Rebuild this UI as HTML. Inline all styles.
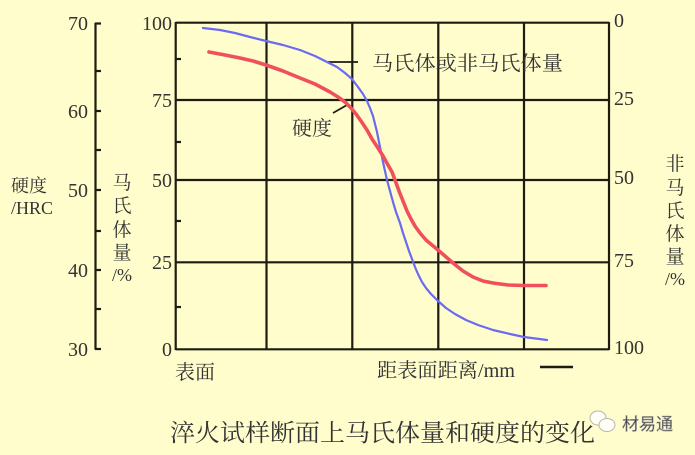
<!DOCTYPE html>
<html><head><meta charset="utf-8"><style>
html,body{margin:0;padding:0;background:#FFFDCC;}
svg{display:block;}
text{font-family:"Liberation Serif","Noto Serif CJK SC",serif;fill:#333;}
</style></head><body>
<svg width="695" height="455" viewBox="0 0 695 455" xmlns="http://www.w3.org/2000/svg">
<rect width="695" height="455" fill="#FFFDCC"/>
<!-- grid -->
<g stroke="#1c1c10" stroke-width="2.2" fill="none">
<line x1="175.5" y1="22.7" x2="609" y2="22.7"/>
<line x1="175.5" y1="100" x2="609" y2="100"/>
<line x1="175.5" y1="180" x2="609" y2="180"/>
<line x1="175.5" y1="262.3" x2="609" y2="262.3"/>
<line x1="175.5" y1="349.3" x2="609" y2="349.3"/>
<line x1="175.7" y1="22" x2="175.7" y2="350"/>
<line x1="266.5" y1="22" x2="266.5" y2="350"/>
<line x1="352.3" y1="22" x2="352.3" y2="350"/>
<line x1="438.3" y1="22" x2="438.3" y2="350"/>
<line x1="524" y1="22" x2="524" y2="350"/>
<line x1="609" y1="22" x2="609" y2="350"/>
<!-- inner minor ticks -->
<line x1="175" y1="59" x2="181" y2="59"/>
<line x1="175" y1="142" x2="181" y2="142"/>
<line x1="175" y1="221" x2="181" y2="221"/>
<line x1="175" y1="307" x2="181" y2="307"/>
<!-- outer axis -->
<line x1="95.5" y1="23" x2="95.5" y2="349.5"/>
<line x1="95" y1="23.5" x2="101" y2="23.5"/>
<line x1="95" y1="71" x2="101" y2="71"/>
<line x1="95" y1="111" x2="101" y2="111"/>
<line x1="95" y1="150" x2="101" y2="150"/>
<line x1="95" y1="190" x2="101" y2="190"/>
<line x1="95" y1="231" x2="101" y2="231"/>
<line x1="95" y1="270" x2="101" y2="270"/>
<line x1="95" y1="309" x2="101" y2="309"/>
<line x1="95" y1="349" x2="101" y2="349"/>
<!-- leaders -->
<line x1="328" y1="62" x2="358" y2="62" stroke-width="1.8"/>
<line x1="333" y1="113" x2="347" y2="105" stroke-width="1.8"/>
<line x1="540" y1="367" x2="573" y2="367" stroke-width="2.5"/>
</g>
<!-- curves -->
<polyline fill="none" stroke="#6a6af2" stroke-width="2.2" stroke-linejoin="round" stroke-linecap="round"
points="203,28 220,30 235,33 250,37 266,41 283,45 300,50 315,56 327,62 337,67 345,73 352,79 358,87 363,94 367,101 370,108 373,116 375,124 377,132 379,142 381,152 383,162 385,171 387,180 390,191 393,202 396,212 400,223 403,233 406,242 409,251 412,259 415,267 418,274 422,282 426,288 431,294 438,301 446,308 455,314 466,320 478,325 493,330 510,334 524,337 547,340"/>
<polyline fill="none" stroke="#f0505c" stroke-width="3.6" stroke-linejoin="round" stroke-linecap="round"
points="209,52 225,55 240,58 253,61 266,65 283,71 300,78 315,84 330,92 338,97 345,102 351,108 356,114 361,121 367,130 372,139 378,148 383,156 388,165 392,172 395,180 399,191 403,201 407,211 411,219 415,226 420,233 426,240 432,245 438,250 445,256 453,263 463,271 473,277 483,281 493,283 508,285 524,285.5 546,285.5"/>
<!-- outer axis labels -->
<g font-size="20" text-anchor="end">
<text x="88" y="30">70</text>
<text x="88" y="118">60</text>
<text x="88" y="197">50</text>
<text x="88" y="277">40</text>
<text x="88" y="356">30</text>
</g>
<!-- inner left labels -->
<g font-size="20" text-anchor="end">
<text x="172" y="30">100</text>
<text x="172" y="107">75</text>
<text x="172" y="187">50</text>
<text x="172" y="269">25</text>
<text x="172" y="356">0</text>
</g>
<!-- right labels -->
<g font-size="20" text-anchor="start">
<text x="614" y="27">0</text>
<text x="614" y="105">25</text>
<text x="614" y="184">50</text>
<text x="614" y="267">75</text>
<text x="614" y="354">100</text>
</g>
<!-- axis titles -->
<g font-size="18">
<text x="11" y="192">硬度</text>
<text x="11" y="214">/HRC</text>
</g>
<g font-size="19" text-anchor="middle">
<text x="122" y="189">马</text>
<text x="122" y="212">氏</text>
<text x="122" y="236">体</text>
<text x="122" y="259">量</text>
<text x="122" y="281" font-size="18">/%</text>
</g>
<g font-size="19" text-anchor="middle">
<text x="675" y="170">非</text>
<text x="675" y="194">马</text>
<text x="675" y="217">氏</text>
<text x="675" y="240">体</text>
<text x="675" y="263">量</text>
<text x="675" y="285" font-size="18">/%</text>
</g>
<!-- annotations -->
<text x="372" y="70" font-size="20" textLength="191" lengthAdjust="spacingAndGlyphs">马氏体或非马氏体量</text>
<text x="292" y="135" font-size="20">硬度</text>
<text x="175" y="379" font-size="20">表面</text>
<text x="377" y="377" font-size="20" textLength="138" lengthAdjust="spacingAndGlyphs">距表面距离/mm</text>
<text x="170" y="441" font-size="24" textLength="425" lengthAdjust="spacingAndGlyphs">淬火试样断面上马氏体量和硬度的变化</text>
<!-- watermark -->
<g opacity="0.85">
<ellipse cx="598" cy="418" rx="8" ry="7" fill="#fff" stroke="#aaa" stroke-width="1"/>
<ellipse cx="607" cy="425" rx="8" ry="6.5" fill="#fff" stroke="#aaa" stroke-width="1"/>
</g>
<text x="622" y="430" font-size="17" fill="#fff" stroke="#aaa" stroke-width="0.6" style="font-family:'Liberation Sans','Noto Sans CJK SC',sans-serif">材易通</text>
</svg>
</body></html>
